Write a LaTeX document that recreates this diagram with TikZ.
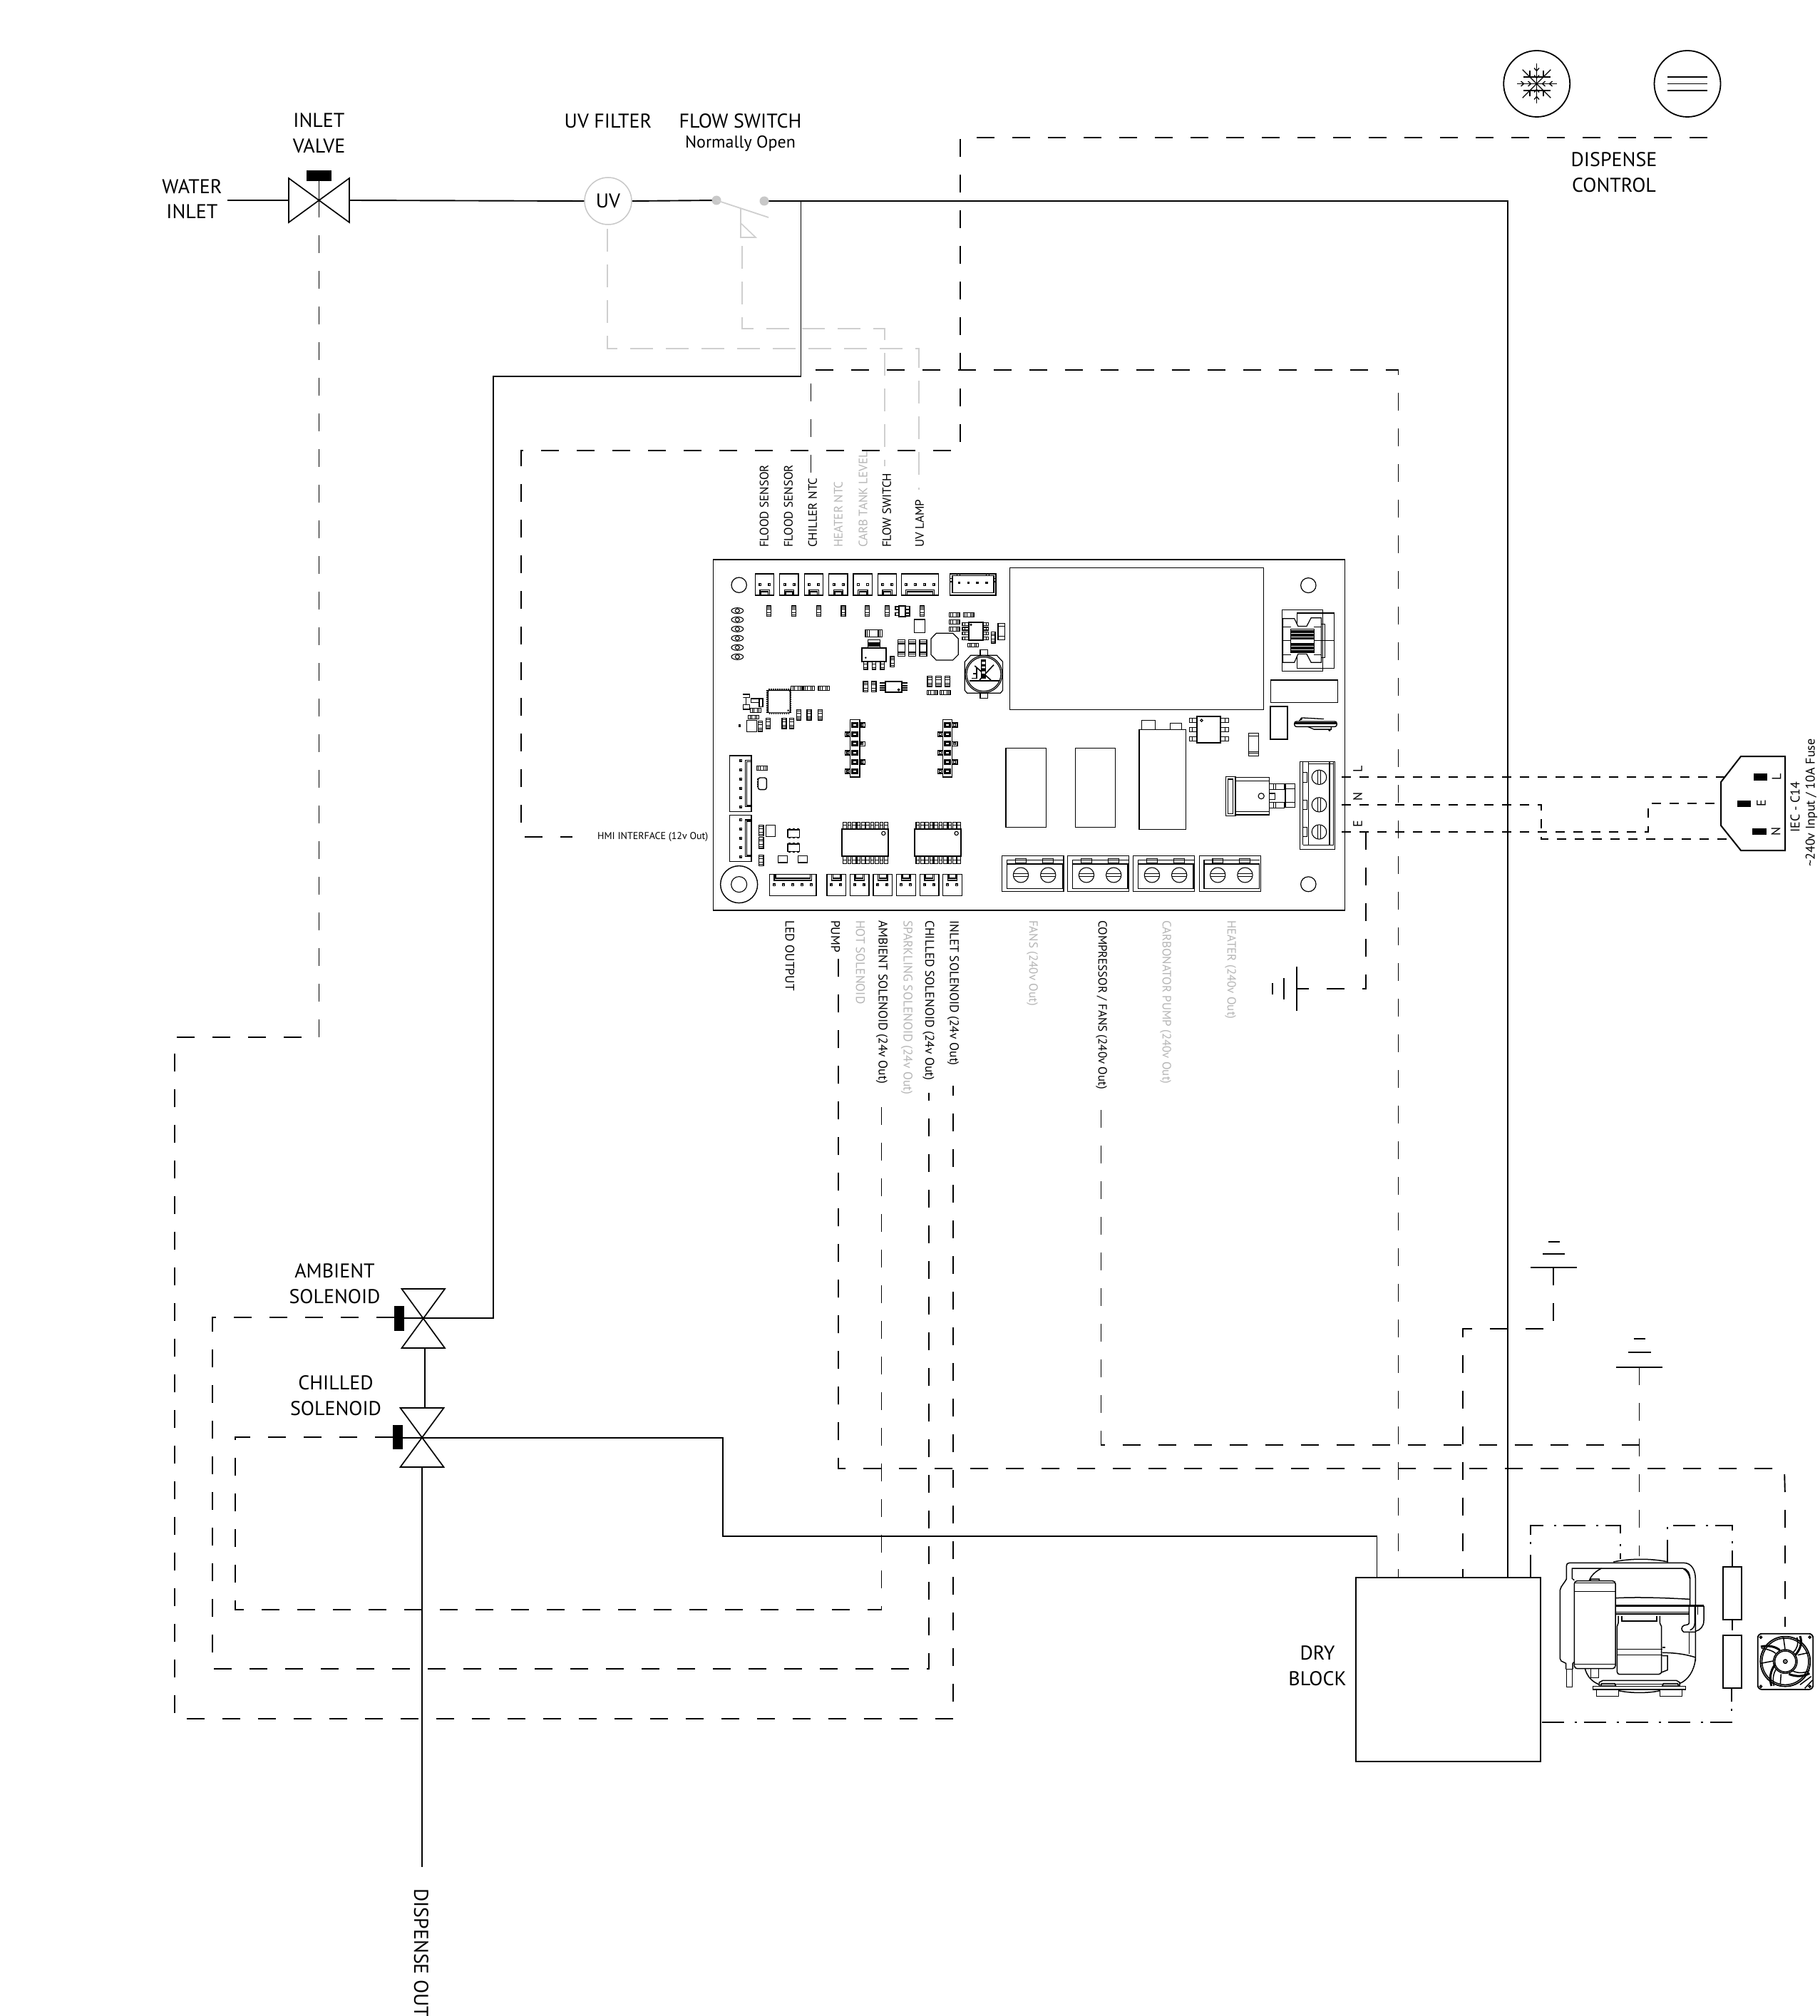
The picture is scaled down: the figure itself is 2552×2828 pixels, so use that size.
\documentclass[tikz,border=0pt]{standalone}
\usepackage{fontspec}
\setmainfont{PT Sans}
\usetikzlibrary{calc}
\definecolor{lineG}{HTML}{CFCFCF}
\definecolor{textG}{HTML}{B5B5B5}
\definecolor{dotG}{HTML}{C8C8C8}
\newcommand\smdV[4]{\draw (#1-#3/2,#2-#4/2) rectangle (#1+#3/2,#2+#4/2);
 \draw (#1-#3/2,#2-#4/6) -- (#1+#3/2,#2-#4/6) (#1-#3/2,#2+#4/6) -- (#1+#3/2,#2+#4/6);
 \draw (#1-#3/2,#2-#4/3) -- (#1+#3/2,#2-#4/3) (#1-#3/2,#2+#4/3) -- (#1+#3/2,#2+#4/3);}
\newcommand\smdH[4]{\draw (#1-#3/2,#2-#4/2) rectangle (#1+#3/2,#2+#4/2);
 \draw (#1-#3/6,#2-#4/2) -- (#1-#3/6,#2+#4/2) (#1+#3/6,#2-#4/2) -- (#1+#3/6,#2+#4/2);
 \draw (#1-#3/3,#2-#4/2) -- (#1-#3/3,#2+#4/2) (#1+#3/3,#2-#4/2) -- (#1+#3/3,#2+#4/2);}
\newcommand\pinSq[2]{\draw[line width=1.3pt] (#1-4,#2-4) rectangle (#1+4,#2+4);}
\newcommand\ovalAt[4]{\draw (#1,#2) ellipse [x radius=#3, y radius=#4];}
\newcommand\bigChip[2]{%
 \foreach \p in {0,...,9}{
  \draw ({#1+12+\p*19.3-7},1120) rectangle ({#1+12+\p*19.3+7},1148);
  \draw[line width=1.6pt] ({#1+12+\p*19.3-7},1132) -- ({#1+12+\p*19.3+7},1132);
  \draw ({#1+12+\p*19.3-7},1263) rectangle ({#1+12+\p*19.3+7},1295);
  \draw[line width=1.6pt] ({#1+12+\p*19.3-7},1280) -- ({#1+12+\p*19.3+7},1280);}
 \draw[line width=2.2pt,fill=white] (#1,1148) rectangle (#1+195,1263);
 \draw (#1+175,1167) circle [radius=8];}
\newcommand\pinRow[1]{%
 \draw (#1,688) rectangle (#1+40,930);
 \foreach \y in {711,750,790,828,867,906}{\draw[line width=3pt] (#1+9,\y-7) rectangle (#1+31,\y+7);}
 \foreach \y in {711,790,867}{\draw (#1+40,\y-9) rectangle (#1+62,\y+9); \draw (#1+46,\y-4) rectangle (#1+54,\y+4);}
 \foreach \y in {750,828,906}{\draw (#1-21,\y-9) rectangle (#1,\y+9); \draw (#1-14,\y-4) rectangle (#1-6,\y+4);}}
\newcommand\termBlock[1]{%
 \draw (#1,1303) rectangle (#1+250,1450);
 \draw[line width=1.4pt] (#1+20,1337) -- (#1+245,1337) -- (#1+245,1440) -- (#1+20,1440) -- cycle;
 \draw (#1+20,1320) -- (#1+20,1337) (#1+20,1320) -- (#1+248,1320);
 \draw (#1+55,1315) rectangle (#1+97,1332);
 \draw (#1+165,1315) rectangle (#1+207,1332);
 \foreach \d in {76,187}{\draw (#1+\d,1383) circle [radius=31];
  \draw (#1+\d-30,1377) -- (#1+\d+30,1377) (#1+\d-30,1389) -- (#1+\d+30,1389);}}
\tikzset{
 wire/.style={line width=1.9pt,line cap=butt,line join=miter},
 sig/.style={line width=1.9pt,dash pattern=on 25pt off 25pt},
 mains/.style={line width=2.2pt,dash pattern=on 13pt off 12pt},
 dd/.style={line width=1.8pt,dash pattern=on 31pt off 15pt on 3pt off 10pt},
 gsig/.style={line width=1.9pt,draw=lineG,dash pattern=on 32pt off 18pt},
 lab/.style={inner sep=0pt,font=\fontsize{28}{30}\selectfont,align=center},
 sublab/.style={inner sep=0pt,font=\fontsize{24}{26}\selectfont},
 toplab/.style={inner sep=0pt,rotate=90,anchor=west,font=\fontsize{17}{19}\selectfont},
 botlab/.style={inner sep=0pt,rotate=-90,anchor=west,font=\fontsize{17.5}{19}\selectfont},
 botlabB/.style={inner sep=0pt,rotate=-90,anchor=west,font=\fontsize{16.9}{19}\selectfont},
 smallab/.style={inner sep=0pt,rotate=90,font=\fontsize{18}{20}\selectfont},
 pcb/.style={line width=1.1pt,line join=miter},
 hole/.style={line width=1.2pt},
}
\begin{document}
\begin{tikzpicture}[x=1pt,y=-1pt]
\useasboundingbox (0,0) rectangle (2552,2828);
\fill[white] (0,0) rectangle (2552,2828);

% ---------- named connection points
\coordinate (waterFree) at (319,281);
\coordinate (inV) at (447.5,281);
\coordinate (inVL) at (405,281);
\coordinate (inVR) at (490,281);
\coordinate (inVCtl) at (447.5,330);
\coordinate (swA) at (1005,281);
\coordinate (swB) at (1072,282);
\coordinate (ambC) at (593.5,1849);
\coordinate (ambB) at (596,1891);
\coordinate (chiC) at (592,2017);
\coordinate (chiT) at (596,1975);
\coordinate (chiB) at (592,2058);
\coordinate (ambCtl) at (553,1848);
\coordinate (chiCtl) at (551,2016);
\coordinate (dispOut) at (592,2619);
\coordinate (dispCtlFree) at (2395,193);
\coordinate (hmiFree) at (803,1174);
\coordinate (tChill) at (1137.5,663);
\coordinate (tFlow) at (1241,654);
\coordinate (tUV) at (1289,687);
\coordinate (bInlet) at (1337,1523);
\coordinate (bChill) at (1303,1533);
\coordinate (bAmb) at (1236.5,1549);
\coordinate (bPump) at (1176,1345);
\coordinate (bComp) at (1544.5,1557);
\coordinate (fanTop) at (2504,2282);
\coordinate (compTop) at (2299.5,2183);
\coordinate (g1) at (2179.3,1778);
\coordinate (g2) at (2299.5,1918);
\coordinate (g3) at (1819,1387);
\coordinate (tL) at (1882,1090);
\coordinate (tN) at (1882,1129);
\coordinate (tE) at (1882,1167);
\coordinate (iecL) at (2421,1090);
\coordinate (iecN) at (2422,1177);
\coordinate (iecE) at (2405,1127);
\coordinate (uvS) at (852,321);
\coordinate (swS) at (1041,345);

% ---------- named boxes
\node[draw,line width=1.9pt,minimum width=259pt,minimum height=258pt,inner sep=0pt] (dry) at (2031.7,2342) {};
\node[draw=dotG,line width=1.5pt,circle,minimum size=66pt,inner sep=0pt,font=\fontsize{28}{30}\selectfont] (uv) at (853,282) {UV};

% ---------- water circuit
\draw[wire] (waterFree) -- (inVL);
\draw[wire] (inVR) -- (uv.west);
\draw[wire] (uv.east) -- (swA);
\draw[wire,line width=2.2pt] (swB) -- (2114.6,282) -- (2114.6,2213);
\draw[wire] (1123.5,282) -- (1123.5,528) -- (691.7,528) -- (691.7,1849) -- (ambC);
\draw[wire] (ambB) -- (chiT);
\draw[wire] (chiC) -- (1014,2017) -- (1014,2155) -- (1931.5,2155) -- (1931.5,2213);
\draw[wire] (chiB) -- (dispOut);

% inlet valve
\draw[line width=1.7pt] (405,250) -- (490,312) -- (490,250) -- (405,312) -- cycle;
\fill (430,239) rectangle (465,254);
\draw[line width=1.5pt] (447.5,254) -- (447.5,305);
% ambient valve
\draw[line width=1.7pt] (563.5,1808) -- (624,1808) -- (563.5,1891) -- (624,1891) -- cycle;
\fill (553,1832) rectangle (567,1867);
\draw[wire] (567,1849) -- (ambC);
% chilled valve
\draw[line width=1.7pt] (561.5,1975) -- (622.5,1975) -- (561.5,2058) -- (622.5,2058) -- cycle;
\fill (551,1999) rectangle (565,2033);
\draw[wire] (565,2017) -- (chiC);

% flow switch
\fill[dotG] (swA) circle [radius=6.5];
\fill[dotG] (swB) circle [radius=6.5];
\draw[draw=lineG,line width=1.8pt] (swA) -- (1078,305);
\draw[draw=lineG,line width=1.6pt] (1039,293) -- (1039,333) -- (1060,333) -- (1039,313);

% grey signals
\draw[gsig] (swS) -- (1041,461) -- (1241,461) -- (tFlow);
\draw[gsig] (uvS) -- (852,489) -- (1289,489) -- (tUV);

% black signals
\draw[sig] (inVCtl) -- (447.5,1455) -- (245,1455) -- (245,2411) -- (1337,2411) -- (bInlet);
\draw[sig] (ambCtl) -- (298,1848) -- (298,2341) -- (1303,2341) -- (bChill);
\draw[sig] (chiCtl) -- (330,2016) -- (330,2258) -- (1236.5,2258) -- (bAmb);
\draw[sig] (bPump) -- (1176,2060) -- (2503,2060) -- (2504,2100) -- (fanTop);
\draw[sig] (bComp) -- (1544.5,2027) -- (2299.5,2027);
\draw[sig] (g2) -- (compTop);
\draw[sig] (g1) -- (2179.3,1864) -- (2052,1864) -- (2052,2213);
\draw[sig] (tChill) -- (1137.5,519) -- (1961.5,519) -- (1961.5,2213);
\draw[sig] (dispCtlFree) -- (1347,193) -- (1347,632) -- (731,632) -- (731,1174) -- (hmiFree);

% mains
\draw[mains] (tL) -- (iecL);
\draw[mains] (tN) -- (2162,1129) -- (2162,1177) -- (iecN);
\draw[mains] (tE) -- (2312,1167) -- (2312,1127) -- (iecE);
\draw[sig] (1916,1167) -- (1916,1387) -- (g3);

% IEC
\draw[line width=2pt] (2442,1061) -- (2504,1061) -- (2504,1193) -- (2442,1193) -- (2414,1158) -- (2414,1097) -- cycle;
\fill (2459.5,1085) rectangle (2479,1095);
\fill (2436.5,1123) rectangle (2456,1132);
\fill (2458,1162) rectangle (2477.5,1171);

% grounds
\draw[line width=1.9pt] (2171.7,1742) -- (2187.7,1742) (2164,1759) -- (2195,1759) (2147,1778) -- (2212,1778);
\draw[line width=1.9pt] (2291.7,1878) -- (2307.7,1878) (2284,1897) -- (2315.7,1897) (2267,1918) -- (2332,1918);
\draw[line width=1.9pt] (1785,1379) -- (1785,1395) (1800.7,1372) -- (1800.7,1402) (1819,1356) -- (1819,1418);

% top icons
\draw[line width=1.8pt] (2155.7,117.5) circle [radius=46.5];
\draw[line width=1.8pt] (2367,117.5) circle [radius=46.5];
\draw[line width=1.6pt] (2339,108) -- (2395,108) (2339,117.5) -- (2395,117.5) (2339,127) -- (2395,127);
\begin{scope}[shift={(2155.5,117.5)},line width=1.3pt]
 \foreach \a in {0,90,180,270}{
  \begin{scope}[rotate=\a]
   \draw (0,0) -- (28,0);
   \draw (22,-3.5) -- (18,0) -- (22,3.5);
   \draw (12,-3.5) -- (8,0) -- (12,3.5);
  \end{scope}}
 \foreach \a in {45,135,225,315}{
  \begin{scope}[rotate=\a]
   \draw (0,0) -- (28,0);
  \end{scope}}
 \draw (-19,-9.5) -- (19,-9.5) (-19,9.5) -- (19,9.5);
 \draw (-9.5,-18) -- (-9.5,-9.5) (9.5,-18) -- (9.5,-9.5) (-9.5,18) -- (-9.5,9.5) (9.5,18) -- (9.5,9.5);
\end{scope}

% ---------- PCB outline
\node[draw,line width=1.5pt,inner sep=0pt,minimum width=886pt,minimum height=492pt] (board) at (1443.5,1031) {};

% ---------- PCB left part (crop coordinates, 3x)
\begin{scope}[shift={(1000,780)},x=0.3333pt,y=-0.3333pt,pcb]
 \draw[hole] (110,122) circle [radius=32];
 \foreach \x in {178,281,385,488,591,694}{
  \draw (\x,75) rectangle (\x+79,165);
  \pinSq{\x+21}{120} \pinSq{\x+60}{120}
  \draw[line width=1.2pt] (\x+20,165) -- (\x+20,143) -- (\x+60,143) -- (\x+60,165) (\x+25,165) -- (\x+25,150) -- (\x+55,150) -- (\x+55,165);}
 \draw (793,75) rectangle (950,165);
 \foreach \x in {812,851,890,929}{\pinSq{\x}{120}}
 \draw[line width=1.2pt] (812,165) -- (812,143) -- (932,143) -- (932,165) (818,165) -- (818,150) -- (926,150) -- (926,165);
 \draw[line width=1.4pt] (998,75) rectangle (1191,165);
 \draw[line width=1.2pt] (1008,83) -- (1182,83) -- (1182,155) -- (1008,155) -- cycle;
 \draw (1028,75) -- (1028,83) (1040,75) -- (1040,83) (1150,75) -- (1150,83) (1162,75) -- (1162,83);
 \draw (998,95) -- (1008,95) (998,108) -- (1008,108) (1182,95) -- (1191,95) (1182,108) -- (1191,108);
 \foreach \x in {1036,1075,1113,1152}{\fill (\x-5,107) rectangle (\x+5,117);}
 \foreach \y in {230,268,307,346,385,424}{\ovalAt{103}{\y}{25}{12}\ovalAt{103}{\y}{9}{8}}
 \foreach \x in {236,340,445,549,650,733,880}{\smdV{\x}{232}{18}{44}}
 % SOT
 \draw[line width=1.3pt] (783,210) rectangle (810,255);
 \draw (768,213) rectangle (783,225) (768,238) rectangle (783,250);
 \foreach \y in {212,226,240}{\draw (810,\y) rectangle (828,\y+12);}
 \draw (848,267) rectangle (892,322);
 \draw (642,310) rectangle (712,341) (650,310) -- (650,341) (658,310) -- (658,341) (696,310) -- (696,341) (704,310) -- (704,341);
 % SOT223
 \draw (653,352) rectangle (703,388);
 \draw (653,366) -- (703,366) (653,372) -- (703,372) (653,378) -- (703,378);
 \foreach \x in {635,670,705}{\draw (\x,443) rectangle (\x+16,477); \draw[line width=1.4pt] (\x,455) -- (\x+16,455) (\x,470) -- (\x+16,470);}
 \draw[line width=1.8pt,fill=white] (628,388) rectangle (728,443);
 \fill (643,428) circle [radius=4];
 \smdV{755}{445}{16}{44}
 \foreach \x in {793,839,885}{\draw (\x-15,352) rectangle (\x+15,422);
  \draw (\x-15,362) -- (\x+15,362) (\x-15,412) -- (\x+15,412) (\x-15,405) -- (\x+15,405) (\x-15,369) -- (\x+15,369);}
 \draw[line width=1.2pt] (940,325) -- (1010,325) -- (1033,348) -- (1033,415) -- (1010,438) -- (940,438) -- (918,415) -- (918,348) -- cycle;
 \smdH{1016}{247}{44}{18} \smdH{1076}{247}{44}{18} \smdH{1016}{277}{44}{18} \smdH{1016}{308}{44}{18} \smdH{1095}{375}{44}{16}
 \foreach \y in {287,306,326,346}{\draw (1050,\y-6) rectangle (1077,\y+6) (1137,\y-6) rectangle (1160,\y+6); \draw (1060,\y-6) -- (1060,\y+6) (1150,\y-6) -- (1150,\y+6);}
 \draw[line width=1.8pt,fill=white] (1077,280) rectangle (1137,355);
 \draw (1086,289) circle [radius=3];
 \smdV{1180}{343}{16}{46}
 \draw (1200,283) rectangle (1228,352) (1200,296) -- (1228,296) (1200,338) -- (1228,338);
 % coin cell
 \draw (1125,395) rectangle (1157,418) (1125,577) rectangle (1157,598);
 \draw[line width=1.2pt] (1085,418) -- (1195,418) -- (1220,445) -- (1220,565) -- (1210,577) -- (1070,577) -- (1060,565) -- (1060,445) -- cycle;
 \draw[line width=1.2pt] (1140,497) circle [radius=78];
 \draw[line width=1.2pt] (1140,497) circle [radius=72];
 \draw[line width=1.2pt] (1080,525) -- (1205,525);
 \draw[line width=1.6pt] (1102,462) -- (1170,522) (1182,458) -- (1122,522);
 \fill (1128,436) rectangle (1150,516);
 \fill[white] (1132,445) rectangle (1146,455) (1132,465) rectangle (1146,472) (1132,485) rectangle (1146,495);
 \draw[line width=1.6pt] (1090,515) -- (1110,515) -- (1110,470) (1095,495) -- (1112,495);
 % small row
 \smdV{643}{550}{20}{44} \smdV{677}{550}{20}{44}
 \foreach \y in {535,545,555,565}{\fill (703,\y-3) rectangle (725,\y+3); \fill (795,\y-3) rectangle (818,\y+3);}
 \draw[line width=2pt,fill=white] (725,527) rectangle (795,573);
 \draw (782,563) circle [radius=4];
 \smdV{913}{527}{20}{44} \smdV{950}{527}{24}{44} \smdV{987}{527}{20}{44}
 \smdH{923}{574}{44}{18} \smdH{977}{574}{44}{18}
 % QFP
 \draw[line width=4pt,dash pattern=on 1.5pt off 1.5pt] (232,565) rectangle (325,660);
 \draw[line width=1.4pt,fill=white,rounded corners=2pt] (232,565) rectangle (325,660);
 \fill (317,650) circle [radius=4];
 \smdH{352}{556}{46}{17} \smdH{404}{556}{46}{17} \smdH{467}{556}{46}{17}
 \smdV{362}{668}{18}{44} \smdV{405}{668}{18}{44} \smdV{452}{668}{18}{44}
 \smdV{232}{704}{18}{44} \smdV{300}{704}{18}{44} \smdV{331}{704}{18}{44} \smdV{200}{716}{18}{44}
 \draw (127,582) -- (155,582) -- (155,595) -- (140,595) -- (140,625) -- (155,625) -- (155,645) -- (127,645) -- (127,625) -- (140,625) (140,595) -- (127,595) -- cycle;
 \draw (160,600) rectangle (195,617) (160,617) -- (195,617) -- (195,635) -- (210,635) -- (210,600) -- (195,600);
 \smdH{180}{650}{44}{17} \smdH{171}{678}{44}{17}
 \draw (142,692) rectangle (185,740);
 \fill (107,709) rectangle (117,719);
 % pin rows
 \pinRow{578} \pinRow{967}
 % left connectors
 \draw (71,840) rectangle (162,1075);
 \foreach \y in {860,899,938,977,1016,1055}{\pinSq{118}{\y}}
 \draw[line width=1.2pt] (162,860) -- (136,860) -- (136,1055) -- (162,1055) (143,866) rectangle (162,1050);
 \draw (71,1090) rectangle (162,1285);
 \foreach \y in {1110,1148,1187,1226,1265}{\pinSq{118}{\y}}
 \draw[line width=1.2pt] (162,1110) -- (136,1110) -- (136,1265) -- (162,1265) (143,1116) rectangle (162,1260);
 \smdH{207}{892}{46}{18}
 \foreach \y in {940,950,960,970}{\fill (187,\y-3) rectangle (229,\y+3);}
 \draw[line width=1.4pt,fill=white,rounded corners=3pt] (190,933) rectangle (226,983);
 \smdV{203}{1155}{20}{46} \smdV{203}{1207}{20}{46} \smdV{203}{1281}{20}{46}
 \draw (224,1133) rectangle (263,1181);
 \foreach \y in {1152,1212}{\draw[line width=1.6pt,dash pattern=on 3pt off 3pt] (318,\y-4) -- (364,\y-4) (318,\y+35) -- (364,\y+35);
  \draw[line width=1.4pt,fill=white] (315,\y) rectangle (365,\y+31);}
 \draw (275,1262) rectangle (314,1290) (358,1262) rectangle (397,1290);
 \bigChip{543}{0} \bigChip{850}{0}
 % washer
 \draw[line width=1.4pt] (110,1382) circle [radius=78];
 \draw (110,1382) circle [radius=33];
 % bottom connectors
 \draw (238,1340) rectangle (435,1430);
 \foreach \x in {258,297,336,375,414}{\pinSq{\x}{1384}}
 \draw[line width=1.2pt] (258,1340) -- (258,1365) -- (415,1365) -- (415,1340) (264,1340) -- (264,1356) -- (409,1356) -- (409,1340);
 \foreach \x in {480,577,675,773,871,968}{
  \draw (\x,1340) rectangle (\x+80,1430);
  \pinSq{\x+19}{1384} \pinSq{\x+58}{1384}
  \draw[line width=1.2pt] (\x+20,1340) -- (\x+20,1365) -- (\x+60,1365) -- (\x+60,1340) (\x+25,1340) -- (\x+25,1356) -- (\x+55,1356) -- (\x+55,1340);}
\end{scope}

% ---------- PCB right part
\begin{scope}[shift={(1380,760.3)},x=0.3444pt,y=-0.3378pt,pcb]
 \draw[line width=1.1pt] (106,106) rectangle (1139,696);
 \draw[hole] (1322,180) ellipse [x radius=31,y radius=31];
 \draw[hole] (1322,1421) ellipse [x radius=31,y radius=31];
 \draw (90,857) rectangle (253,1184);
 \draw (373,857) rectangle (536,1184);
 \draw (633,780) rectangle (822,1194);
 \draw (644,741) rectangle (698,780);
 \draw (758,752) rectangle (806,780);
 % SOIC6
 \foreach \y in {740,780,818}{\draw (838,\y-9) rectangle (868,\y+9) (965,\y-9) rectangle (997,\y+9); \draw (848,\y-9) -- (848,\y+9) (982,\y-9) -- (982,\y+9);}
 \draw[line width=2pt,fill=white] (868,725) rectangle (965,835);
 \draw (887,741) circle [radius=5];
 \draw (1078,795) rectangle (1120,888) (1078,807) -- (1120,807) (1078,870) -- (1120,870) (1078,878) -- (1120,878);
 % choke
 \draw (1215,281) rectangle (1380,536);
 \draw[line width=1.2pt] (1277,295) rectangle (1427,525);
 \draw[line width=1.2pt,fill=white] (1218,318) -- (1265,318) -- (1280,350) -- (1315,350) -- (1333,315) -- (1375,315) -- (1375,500) -- (1333,500) -- (1315,465) -- (1280,465) -- (1265,500) -- (1218,500) -- cycle;
 \draw (1250,360) -- (1250,460) (1345,360) -- (1345,460);
 \foreach \y in {362,367,...,402,420,425,...,460}{\draw[line width=1.3pt] (1250,\y) -- (1345,\y);}
 \draw (1218,410) -- (1250,410) (1345,410) -- (1427,410);
 \draw (1218,352) -- (1250,352) (1218,467) -- (1250,467) (1345,352) -- (1375,352) (1345,467) -- (1375,467);
 \draw (1375,340) -- (1390,340) -- (1390,480) -- (1375,480);
 % rects
 \draw[line width=1.4pt] (1169,573) rectangle (1442,667);
 \draw[line width=1.8pt] (1167,682) rectangle (1236,818);
 % bar
 \draw[line width=1.4pt,rounded corners=3pt] (1265,745) rectangle (1438,767);
 \draw (1265,756) -- (1438,756) (1265,751) -- (1438,751);
 \draw[line width=1.3pt] (1285,743) -- (1295,730) -- (1385,735) (1320,767) -- (1345,778) -- (1415,778) -- (1415,767);
 \fill (1293,735) circle [radius=5] (1408,782) circle [radius=5];
 % transistor
 \draw (985,975) rectangle (1025,1137);
 \draw (995,985) -- (1015,985) -- (1015,1128) -- (995,1128) -- cycle;
 \draw[line width=1.2pt] (1025,978) rectangle (1162,1133);
 \draw (1025,992) -- (1162,992) (1025,1120) -- (1162,1120);
 \draw (1130,1055) circle [radius=12];
 \draw (1162,1005) rectangle (1225,1028) (1162,1080) rectangle (1225,1105) (1162,1044) rectangle (1185,1068);
 \draw (1180,1005) -- (1180,1028) (1190,1005) -- (1190,1028) (1180,1080) -- (1180,1105) (1190,1080) -- (1190,1105);
 \draw (1228,1005) rectangle (1268,1102) (1228,1025) -- (1268,1025) (1228,1082) -- (1268,1082);
 % mains terminal
 \draw (1287,912) rectangle (1430,1277);
 \draw[line width=1.4pt] (1322,915) -- (1322,1258) (1408,915) -- (1408,1258) (1322,922) -- (1425,922) (1300,1258) -- (1425,1258);
 \draw (1300,915) -- (1300,1258) (1425,915) -- (1425,1258);
 \foreach \y in {977,1091,1204}{
  \draw (1366,\y) ellipse [x radius=30,y radius=30];
  \draw (1360,\y-29) -- (1360,\y+29) (1372,\y-29) -- (1372,\y+29);
  \draw (1298,\y-20) rectangle (1316,\y+20);}
 \termBlock{75} \termBlock{342} \termBlock{609} \termBlock{877}
\end{scope}

% ---------- Compressor (crop coordinates, 3x)
\begin{scope}[shift={(2100,2100)},x=0.3333pt,y=-0.3333pt,line width=1.5pt]
 \draw (490,273) .. controls (560,258) and (650,258) .. (720,273);
 \draw (440,300) .. controls (415,312) and (395,330) .. (388,352);
 \draw (785,302) .. controls (800,312) and (808,325) .. (812,345);
 \draw (370,722) .. controls (380,760) and (405,780) .. (432,790);
 \draw (835,680) .. controls (830,730) and (805,770) .. (768,785);
 \draw (292,345) -- (292,290) .. controls (292,282) and (296,277) .. (305,277) -- (785,277) .. controls (820,277) and (835,310) .. (835,345) -- (835,690);
 \draw (316,345) -- (316,300) -- (780,300) .. controls (800,300) and (812,320) .. (812,345) -- (812,460);
 \draw (292,345) -- (288,352) -- (270,378) -- (265,392) -- (265,680) -- (270,690) -- (290,700) -- (290,725) (318,345) -- (325,350);
 \draw (292,725) rectangle (316,800);
 \draw (318,725) -- (318,700) -- (325,695);
 \draw (395,722) rectangle (428,760);
 \draw (392,352) -- (395,345) -- (430,345) -- (430,352);
 \draw[rounded corners=4pt] (325,353) rectangle (498,722);
 \draw (325,362) -- (498,362) (325,398) -- (498,398) (325,703) -- (498,703);
 \draw (500,425) .. controls (600,420) and (720,425) .. (810,430);
 \draw[line width=2.4pt] (498,458) -- (870,458) (498,492) -- (808,492);
 \draw[line width=1pt] (498,485) -- (808,485);
 \draw (870,458) -- (870,520) .. controls (870,545) and (855,560) .. (835,565);
 \draw (808,460) -- (808,530) .. controls (808,538) and (795,538) .. (787,540) .. controls (775,545) and (773,560) .. (785,568) -- (835,568);
 \draw (832,460) -- (832,530) .. controls (832,545) and (825,555) .. (812,560);
 \draw (808,568) -- (808,660);
 \draw (845,460) -- (845,495);
 \draw (510,500) -- (510,530) -- (505,545) -- (505,735) .. controls (505,742) and (510,746) .. (515,746) -- (680,746) .. controls (688,746) and (692,740) .. (692,735) -- (692,545) -- (685,530) -- (685,500);
 \draw (525,500) -- (525,522) -- (672,522) -- (672,500);
 \draw (505,640) -- (695,640) (505,665) -- (695,665);
 \draw[line width=2pt] (695,633) -- (708,633);
 \draw (695,668) -- (717,668) -- (717,728) -- (692,738);
 \draw (695,655) .. controls (740,655) and (790,660) .. (835,675);
 \draw (403,796) rectangle (793,810);
 \draw (418,810) rectangle (512,838) (685,810) rectangle (778,838);
 \draw (512,815) .. controls (560,826) and (640,826) .. (685,815);
 \draw (430,796) -- (430,780) -- (445,772) -- (755,772) -- (768,780) -- (768,796);
 \draw (435,787) -- (760,787);
 \draw[fill=gray!60] (435,796) -- (440,785) -- (495,785) -- (500,796) -- cycle;
 \draw[fill=gray!60] (695,796) -- (700,785) -- (760,785) -- (765,796) -- cycle;
 % resistors
 \draw[line width=1.9pt] (952,293) rectangle (1030,515);
 \draw[line width=1.9pt] (952,582) rectangle (1030,805);
 \draw[line width=1.8pt] (990,518) -- (990,562);
 % dash-dot runs
 \draw[dd] (141,335) -- (141,120) -- (518,120) -- (518,262);
 \draw[dd] (717,272) -- (717,120) -- (990,120) -- (990,290);
 \draw[dd] (188,947) -- (988,947) -- (988,808);
 % fan
 \draw[line width=1.8pt,rounded corners=6pt] (1097,575) rectangle (1330,810);
 \foreach \x in {1110,1316}{\foreach \y in {590,797}{\draw[line width=1.4pt,fill=gray!70] (\x,\y) circle [radius=5];}}
 \draw[line width=1.8pt] (1213,692) circle [radius=105];
 \draw (1213,692) circle [radius=98];
 \draw (1213,692) circle [radius=50];
 \draw (1213,692) circle [radius=44];
 \draw (1213,692) circle [radius=8];
 \fill (1213,692) circle [radius=3];
 \draw[line width=3pt] (1110,630) .. controls (1140,622) and (1175,630) .. (1190,645);
 \draw (1112,636) .. controls (1140,640) and (1165,650) .. (1172,658);
 \draw[line width=3pt] (1275,585) .. controls (1285,610) and (1278,640) .. (1255,665);
 \draw (1262,590) .. controls (1270,620) and (1262,640) .. (1245,655);
 \draw (1205,590) -- (1212,640);
 \draw[line width=3pt] (1170,705) .. controls (1150,730) and (1145,765) .. (1155,795);
 \draw (1176,722) .. controls (1160,745) and (1160,770) .. (1165,795);
 \draw (1110,700) -- (1162,690);
 \draw (1195,745) -- (1192,790);
 \draw[line width=3pt] (1228,745) .. controls (1260,758) and (1290,755) .. (1315,742);
 \draw (1240,730) .. controls (1270,745) and (1295,740) .. (1315,730);
 \draw (1265,665) -- (1312,655);
 \draw (1275,790) -- (1322,755) (1295,805) -- (1328,770);
\end{scope}

% ---------- labels
\node[lab] (nWater) at (269.5,279.5) {WATER\\[5pt]INLET};
\node[lab] (nInlet) at (447.5,186.5) {INLET\\[6pt]VALVE};
\node[lab] (nUVF) at (853,169.5) {UV FILTER};
\node[lab] (nFlow) at (1038.5,169.5) {FLOW SWITCH};
\node[sublab] (nNO) at (1038.5,201.5) {Normally Open};
\node[lab] (nDisp) at (2264,242) {DISPENSE\\[6pt]CONTROL};
\node[lab] (nAmb) at (469.5,1800.5) {AMBIENT\\[6pt]SOLENOID};
\node[lab] (nChi) at (471,1957.5) {CHILLED\\[6pt]SOLENOID};
\node[lab] (nDry) at (1848,2337) {DRY\\[6pt]BLOCK};
\node[lab,rotate=-90,anchor=west] (nOut) at (591,2649) {DISPENSE OUT};
\node[inner sep=0pt,anchor=west,font=\fontsize{14}{16}\selectfont] (nHmi) at (838,1174.5) {HMI INTERFACE (12v Out)};

\node[toplab] at (1072,768) {FLOOD SENSOR};
\node[toplab] at (1106,768) {FLOOD SENSOR};
\node[toplab] at (1140,768) {CHILLER NTC};
\node[toplab,text=textG] at (1176,768) {HEATER NTC};
\node[toplab,text=textG] at (1210.6,768) {CARB TANK LEVEL};
\node[toplab] at (1244,768) {FLOW SWITCH};
\node[toplab] at (1290,768) {UV LAMP};

\node[botlab] at (1108,1291) {LED OUTPUT};
\node[botlab] at (1172,1291) {PUMP};
\node[botlab,text=textG] at (1207,1291) {HOT SOLENOID};
\node[botlab] at (1237,1291) {AMBIENT SOLENOID (24v Out)};
\node[botlab,text=textG] at (1272,1291) {SPARKLING SOLENOID (24v Out)};
\node[botlab] at (1302.5,1291) {CHILLED SOLENOID (24v Out)};
\node[botlab] at (1337,1291) {INLET SOLENOID (24v Out)};
\node[botlabB,text=textG] at (1448,1291) {FANS (240v Out)};
\node[botlabB] at (1545,1291) {COMPRESSOR / FANS (240v Out)};
\node[botlabB,text=textG] at (1635,1291) {CARBONATOR PUMP (240v Out)};
\node[botlabB,text=textG] at (1726,1291) {HEATER (240v Out)};

\node[smallab] at (1904.5,1079) {L};
\node[smallab] at (1904.5,1117) {N};
\node[smallab] at (1904.5,1156) {E};
\node[smallab] at (2492,1090) {L};
\node[smallab] at (2470.5,1127) {E};
\node[smallab] at (2491,1166) {N};
\node[inner sep=0pt,rotate=90,font=\fontsize{18}{20}\selectfont] at (2518,1132) {IEC - C14};
\node[inner sep=0pt,rotate=90,font=\fontsize{18}{20}\selectfont] at (2541,1126) {\textasciitilde240v Input / 10A Fuse};
\end{tikzpicture}
\end{document}
